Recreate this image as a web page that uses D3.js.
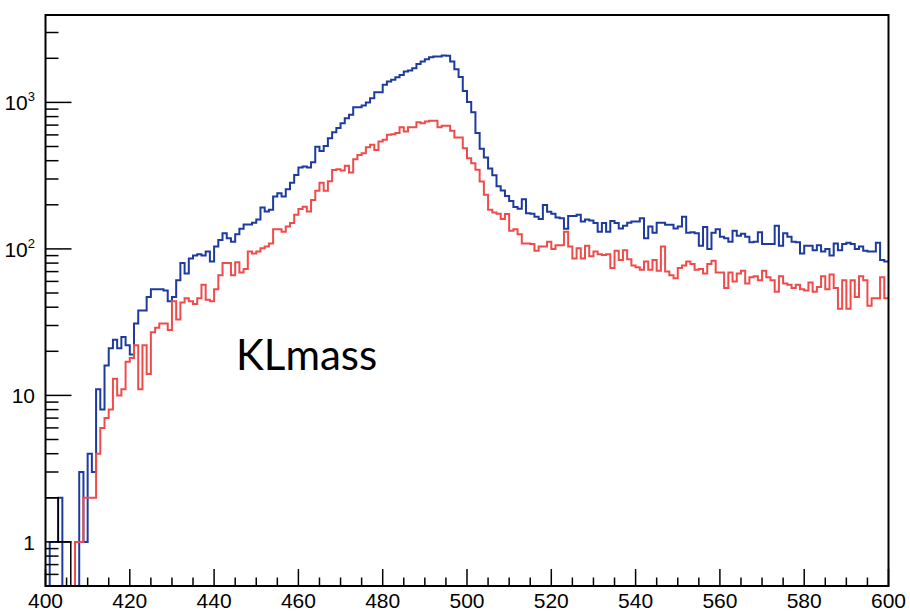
<!DOCTYPE html>
<html>
<head>
<meta charset="utf-8">
<script src="https://cdn.jsdelivr.net/npm/d3@7"></script>
<style>
  html, body { margin: 0; padding: 0; background: #fff; }
  svg { display: block; }
</style>
</head>
<body>
<div id="chart"></div>
<script>
// KLmass histograms: 200 bins of 1 unit from 400 to 600
const binLow = 400;
const binWidth = 1;

const blueCounts = [
  0, 1, 1, 2, 0, 0, 0, 0, 3, 1,
  4, 3, 11, 8, 16, 21, 24, 21, 25, 22,
  19, 31, 38, 38, 47, 53, 53, 53, 52, 44,
  47, 61, 80, 68, 86, 90, 92, 90, 96, 82,
  104, 115, 128, 118, 112, 126, 137, 147, 147, 151,
  159, 192, 180, 185, 228, 240, 228, 255, 283, 320,
  359, 365, 359, 390, 499, 466, 504, 569, 625, 670,
  721, 780, 822, 927, 927, 952, 997, 1068, 1174, 1174,
  1318, 1389, 1425, 1486, 1541, 1624, 1650, 1713, 1832, 1900,
  1971, 2035, 2055, 2055, 2088, 2080, 1900, 1686, 1490, 1195,
  1005, 855, 618, 483, 421, 354, 318, 268, 250, 230,
  212, 193, 188, 218, 175, 174, 166, 160, 199, 179,
  174, 164, 162, 137, 168, 168, 171, 154, 159, 156,
  150, 131, 150, 131, 155, 150, 138, 144, 151, 154,
  154, 162, 118, 142, 129, 151, 151, 146, 146, 138,
  142, 166, 129, 130, 128, 105, 141, 100, 129, 136,
  121, 118, 112, 133, 123, 127, 121, 111, 112, 130,
  108, 108, 108, 144, 105, 128, 121, 112, 111, 93,
  105, 105, 98, 106, 96, 100, 90, 109, 98, 108,
  110, 108, 100, 104, 97, 96, 96, 110, 84, 82
];

const redCounts = [
  0, 0, 0, 0, 0, 0, 0, 1, 1, 2,
  2, 2, 4, 6, 7, 8, 13, 10, 11, 17,
  18, 22, 11, 22, 14, 27, 29, 31, 31, 28,
  44, 33, 43, 46, 44, 42, 46, 57, 45, 44,
  53, 66, 80, 80, 66, 81, 69, 73, 96, 93,
  96, 101, 104, 109, 136, 136, 131, 142, 150, 171,
  187, 194, 180, 216, 249, 283, 249, 290, 345, 350,
  343, 369, 332, 409, 438, 450, 494, 513, 474, 540,
  555, 601, 607, 617, 678, 633, 678, 678, 733, 721,
  740, 748, 748, 678, 692, 692, 640, 576, 576, 487,
  416, 385, 347, 289, 234, 185, 177, 174, 160, 173,
  133, 136, 126, 109, 109, 108, 97, 104, 104, 112,
  100, 106, 106, 131, 104, 86, 101, 86, 105, 89,
  96, 92, 91, 92, 74, 97, 84, 98, 85, 77,
  75, 72, 82, 72, 84, 71, 104, 70, 66, 63,
  74, 77, 82, 79, 72, 73, 68, 79, 83, 69,
  69, 54, 69, 60, 68, 71, 58, 64, 65, 61,
  71, 64, 61, 51, 65, 58, 57, 54, 57, 53,
  52, 59, 51, 55, 65, 53, 67, 54, 39, 61,
  39, 61, 47, 65, 61, 41, 46, 46, 64, 46
];

const blackCounts = [2, 2, 2, 1, 1, 1, 0];

const xTickValues = [400, 420, 440, 460, 480, 500, 520, 540, 560, 580, 600];
const yTickValues = [1, 10, 100, 1000];
const yTickBase = ["1", "10", "10", "10"];
const yTickExp = ["", "", "2", "3"];

const width = 910, height = 613;
const frame = { left: 45.5, right: 888.5, top: 15, bottom: 586 };
const yMin = 0.5, yMax = 3950;

const svg = d3.select("#chart")
    .append("svg")
    .attr("width", width)
    .attr("height", height)
    .style("font-family", "'Liberation Sans', Arial, sans-serif");

svg.append("rect").attr("width", width).attr("height", height).attr("fill", "#fff");

const x = d3.scaleLinear().domain([400, 600]).range([frame.left, frame.right]);
const y = d3.scaleLog().domain([yMin, yMax]).range([frame.bottom, frame.top]);

svg.append("clipPath").attr("id", "frameClip")
  .append("rect")
    .attr("x", frame.left).attr("y", frame.top)
    .attr("width", frame.right - frame.left)
    .attr("height", frame.bottom - frame.top);

// step outline of a histogram
function steps(counts) {
    const pts = counts.map((c, i) => [binLow + i * binWidth, c]);
    pts.push([binLow + counts.length * binWidth, counts[counts.length - 1]]);
    return pts;
}

const line = d3.line()
    .x(d => x(d[0]))
    .y(d => y(Math.max(d[1], yMin)))
    .curve(d3.curveStepAfter);

const plot = svg.append("g").attr("clip-path", "url(#frameClip)");

plot.append("path")
    .attr("d", line(steps(blueCounts)))
    .attr("fill", "none")
    .attr("stroke", "#1d3b9f")
    .attr("stroke-width", 2);

plot.append("path")
    .attr("d", line(steps(redCounts)))
    .attr("fill", "none")
    .attr("stroke", "#f04b4b")
    .attr("stroke-width", 2);

plot.append("path")
    .attr("d", line(steps(blackCounts)))
    .attr("fill", "none")
    .attr("stroke", "#000")
    .attr("stroke-width", 1.5);

// y ticks (log): major at decades, minor at 2..9
const yMinor = [];
[0.1, 1, 10, 100, 1000].forEach(d => {
    for (let m = 2; m <= 9; m++) {
        const v = m * d;
        if (v > yMin && v < yMax) yMinor.push(v);
    }
});

const ticks = svg.append("g").attr("stroke", "#000").attr("stroke-width", 1.5);

ticks.selectAll(".ymin")
  .data(yMinor)
  .enter().append("line")
    .attr("x1", frame.left).attr("x2", frame.left + 13)
    .attr("y1", d => y(d)).attr("y2", d => y(d));

ticks.selectAll(".ymaj")
  .data(yTickValues)
  .enter().append("line")
    .attr("x1", frame.left).attr("x2", frame.left + 26)
    .attr("y1", d => y(d)).attr("y2", d => y(d));

// x ticks every 5, major every 20
ticks.selectAll(".xmin")
  .data(d3.range(405, 600, 5).filter(v => v % 20 !== 0))
  .enter().append("line")
    .attr("x1", d => x(d)).attr("x2", d => x(d))
    .attr("y1", frame.bottom).attr("y2", frame.bottom - 8.5);

ticks.selectAll(".xmaj")
  .data(xTickValues)
  .enter().append("line")
    .attr("x1", d => x(d)).attr("x2", d => x(d))
    .attr("y1", frame.bottom).attr("y2", frame.bottom - 17);

// frame
svg.append("rect")
    .attr("x", frame.left).attr("y", frame.top)
    .attr("width", frame.right - frame.left)
    .attr("height", frame.bottom - frame.top)
    .attr("fill", "none")
    .attr("stroke", "#000")
    .attr("stroke-width", 2);

// x labels
svg.selectAll(".xlabel")
  .data(xTickValues)
  .enter().append("text")
    .attr("x", d => x(d))
    .attr("y", 608)
    .attr("text-anchor", "middle")
    .style("font-size", "21px")
    .attr("fill", "#000")
    .text(d => d);

// y labels with superscript exponent
const yl = svg.selectAll(".ylabel")
  .data(yTickValues)
  .enter().append("text")
    .attr("x", 35)
    .attr("y", d => y(d) + 8)
    .attr("text-anchor", "end")
    .style("font-size", "21px")
    .attr("fill", "#000");

yl.append("tspan").text((d, i) => yTickBase[i]);
yl.append("tspan")
    .attr("dy", -9)
    .style("font-size", "13px")
    .text((d, i) => yTickExp[i]);

// histogram name
svg.append("text")
    .attr("x", 236)
    .attr("y", 370)
    .style("font-family", "Lato, 'Open Sans', sans-serif")
    .style("font-size", "42px")
    .attr("fill", "#000")
    .text("KLmass");
</script>
</body>
</html>
